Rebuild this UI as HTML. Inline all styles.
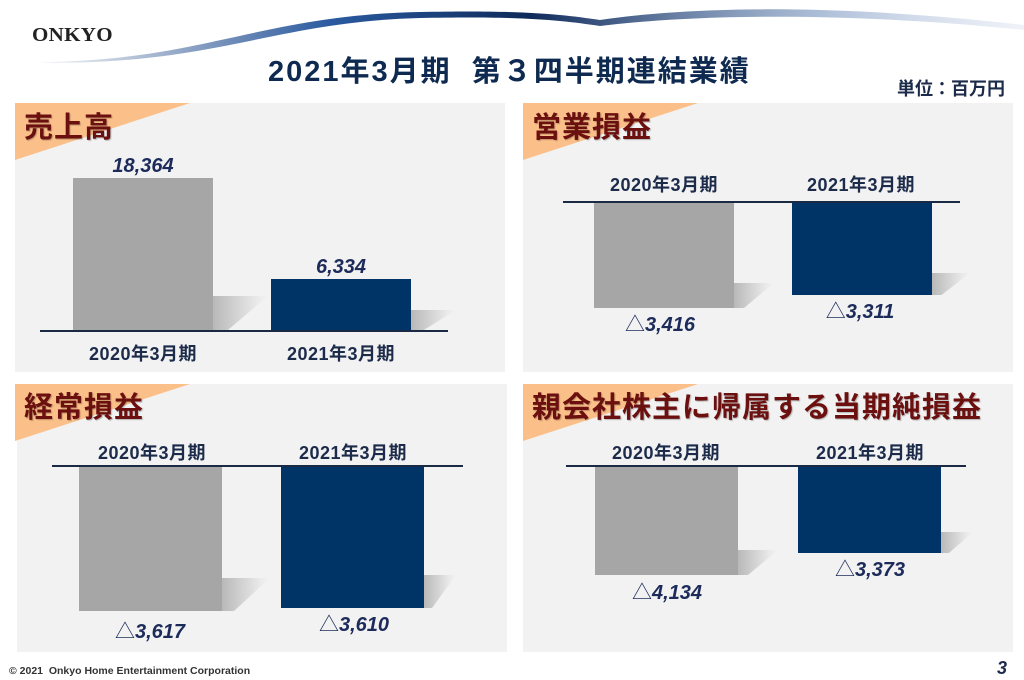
<!DOCTYPE html>
<html><head><meta charset="utf-8"><style>
*{margin:0;padding:0;box-sizing:border-box}
body{width:1024px;height:680px;background:#fff;position:relative;overflow:hidden;font-family:"Liberation Sans","Noto Sans CJK JP",sans-serif}
.a{position:absolute}
.panel{position:absolute;background:#f2f2f2}
.tri{position:absolute;width:0;height:0;border-top:57px solid #fbc08a;border-right:175px solid transparent}
.ttl{position:absolute;font-size:29px;letter-spacing:1px;font-weight:bold;color:#6b0f0f;white-space:nowrap;text-shadow:1px 1px 1px rgba(0,0,0,.25)}
.ax{position:absolute;height:2px;background:#1a2a44}
.g{position:absolute;background:#a6a6a6}
.n{position:absolute;background:#003366}
.sh{position:absolute;background:linear-gradient(to right,rgba(160,160,160,.7),rgba(215,215,215,.3) 80%,rgba(240,240,240,0));clip-path:polygon(0 0,100% 0,25% 100%,0 100%)}
.cat{position:absolute;font-size:18px;letter-spacing:.5px;font-weight:bold;color:#1c2b4a;width:240px;text-align:center;white-space:nowrap}
.val{position:absolute;font-size:20px;font-weight:bold;font-style:italic;color:#1c2b5a;width:240px;text-align:center;white-space:nowrap}
.val span{font-weight:normal;font-style:normal}
</style></head><body>
<svg class="a" style="left:0;top:0" width="1024" height="70">
<defs><linearGradient id="sw" x1="0" x2="1"><stop offset="0" stop-color="#1a3f7a" stop-opacity="0"/><stop offset=".3" stop-color="#2a5aa0"/><stop offset=".5" stop-color="#0e2a5a"/><stop offset=".8" stop-color="#7a96c0" stop-opacity=".6"/><stop offset="1" stop-color="#c8d4e8" stop-opacity=".3"/></linearGradient></defs>
<path d="M35,62 C200,62 260,15 420,12 C520,10 560,14 600,20 C700,5 850,5 1024,25 L1024,30 C850,12 700,14 600,26 C560,20 520,16 420,18 C270,22 220,65 35,63Z" fill="url(#sw)"/>
</svg>
<div class="a" style="left:32px;top:24px;font-family:'Liberation Serif',serif;font-weight:bold;font-size:20px;color:#222;letter-spacing:.3px;transform:scaleX(1.05);transform-origin:left">ONKYO</div>
<div class="a" style="left:268px;top:48px;font-size:29px;letter-spacing:2px;font-weight:bold;color:#0f2a50;white-space:nowrap">2021年3月期&nbsp; 第３四半期連結業績</div>
<div class="a" style="left:897px;top:75px;font-size:18px;font-weight:bold;color:#1c2b4a">単位：百万円</div>

<div class="panel" style="left:15px;top:103px;width:490px;height:269px"></div>
<div class="tri" style="left:15px;top:103px"></div>
<div class="ttl" style="left:24px;top:104px">売上高</div>
<div class="sh" style="left:213px;top:296px;width:55px;height:35px"></div>
<div class="sh" style="left:411px;top:310px;width:45px;height:21px"></div>
<div class="g" style="left:73px;top:178px;width:140px;height:153px"></div>
<div class="n" style="left:271px;top:279px;width:140px;height:52px"></div>
<div class="ax" style="left:40px;top:330px;width:408px"></div>
<div class="val" style="left:23px;top:155px">18,364</div>
<div class="val" style="left:221px;top:256px">6,334</div>
<div class="cat" style="left:23px;top:340px">2020年3月期</div>
<div class="cat" style="left:221px;top:340px">2021年3月期</div>

<div class="panel" style="left:523px;top:103px;width:490px;height:269px"></div>
<div class="tri" style="left:523px;top:103px"></div>
<div class="ttl" style="left:532px;top:104px">営業損益</div>
<div class="cat" style="left:544px;top:171px">2020年3月期</div>
<div class="cat" style="left:741px;top:171px">2021年3月期</div>
<div class="sh" style="left:734px;top:283px;width:40px;height:25px"></div>
<div class="sh" style="left:932px;top:273px;width:38px;height:22px"></div>
<div class="g" style="left:594px;top:202px;width:140px;height:106px"></div>
<div class="n" style="left:792px;top:202px;width:140px;height:93px"></div>
<div class="ax" style="left:563px;top:201px;width:397px"></div>
<div class="val" style="left:540px;top:308px"><span>△</span>3,416</div>
<div class="val" style="left:740px;top:295px"><span>△</span>3,311</div>

<div class="panel" style="left:17px;top:384px;width:490px;height:268px"></div>
<div class="tri" style="left:15px;top:384px"></div>
<div class="ttl" style="left:24px;top:384px">経常損益</div>
<div class="cat" style="left:32px;top:439px">2020年3月期</div>
<div class="cat" style="left:233px;top:439px">2021年3月期</div>
<div class="sh" style="left:222px;top:578px;width:48px;height:33px"></div>
<div class="sh" style="left:424px;top:575px;width:32px;height:33px"></div>
<div class="g" style="left:79px;top:466px;width:143px;height:145px"></div>
<div class="n" style="left:281px;top:466px;width:143px;height:142px"></div>
<div class="ax" style="left:52px;top:465px;width:411px"></div>
<div class="val" style="left:30px;top:615px"><span>△</span>3,617</div>
<div class="val" style="left:234px;top:608px"><span>△</span>3,610</div>

<div class="panel" style="left:523px;top:384px;width:490px;height:268px"></div>
<div class="tri" style="left:523px;top:384px"></div>
<div class="ttl" style="left:532px;top:384px">親会社株主に帰属する当期純損益</div>
<div class="cat" style="left:546px;top:439px">2020年3月期</div>
<div class="cat" style="left:750px;top:439px">2021年3月期</div>
<div class="sh" style="left:738px;top:550px;width:40px;height:25px"></div>
<div class="sh" style="left:941px;top:532px;width:32px;height:21px"></div>
<div class="g" style="left:595px;top:466px;width:143px;height:109px"></div>
<div class="n" style="left:798px;top:466px;width:143px;height:87px"></div>
<div class="ax" style="left:566px;top:465px;width:400px"></div>
<div class="val" style="left:547px;top:576px"><span>△</span>4,134</div>
<div class="val" style="left:750px;top:553px"><span>△</span>3,373</div>

<div class="a" style="left:9px;top:665px;font-size:10.5px;font-weight:bold;color:#333">© 2021&nbsp; Onkyo Home Entertainment Corporation</div>
<div class="a" style="left:997px;top:658px;font-size:18px;font-weight:bold;font-style:italic;color:#1c2b4a">3</div>
</body></html>
